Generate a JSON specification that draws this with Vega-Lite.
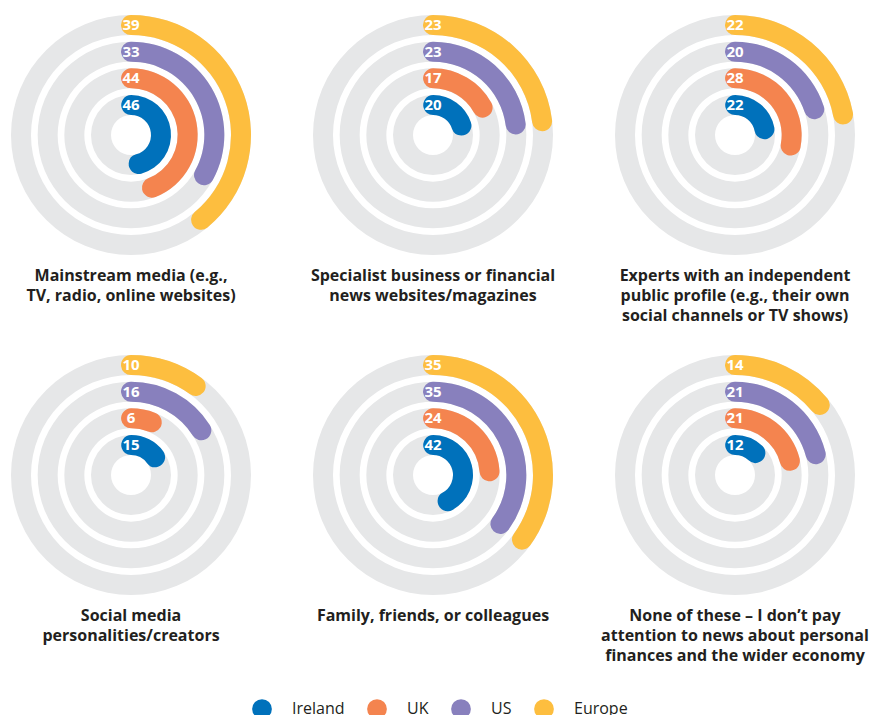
{
  "$schema": "https://vega.github.io/schema/vega-lite/v6.json",
  "padding": {"left": 11, "top": 15, "right": 5, "bottom": 0},
  "background": "white",
  "bounds": "flush",
  "data": {
    "values": [
      {"category": "Mainstream media (e.g., TV, radio, online websites)", "country": "Ireland", "value": 46},
      {"category": "Mainstream media (e.g., TV, radio, online websites)", "country": "UK", "value": 44},
      {"category": "Mainstream media (e.g., TV, radio, online websites)", "country": "US", "value": 33},
      {"category": "Mainstream media (e.g., TV, radio, online websites)", "country": "Europe", "value": 39},
      {"category": "Specialist business or financial news websites/magazines", "country": "Ireland", "value": 20},
      {"category": "Specialist business or financial news websites/magazines", "country": "UK", "value": 17},
      {"category": "Specialist business or financial news websites/magazines", "country": "US", "value": 23},
      {"category": "Specialist business or financial news websites/magazines", "country": "Europe", "value": 23},
      {"category": "Experts with an independent public profile (e.g., their own social channels or TV shows)", "country": "Ireland", "value": 22},
      {"category": "Experts with an independent public profile (e.g., their own social channels or TV shows)", "country": "UK", "value": 28},
      {"category": "Experts with an independent public profile (e.g., their own social channels or TV shows)", "country": "US", "value": 20},
      {"category": "Experts with an independent public profile (e.g., their own social channels or TV shows)", "country": "Europe", "value": 22},
      {"category": "Social media personalities/creators", "country": "Ireland", "value": 15},
      {"category": "Social media personalities/creators", "country": "UK", "value": 6},
      {"category": "Social media personalities/creators", "country": "US", "value": 16},
      {"category": "Social media personalities/creators", "country": "Europe", "value": 10},
      {"category": "Family, friends, or colleagues", "country": "Ireland", "value": 42},
      {"category": "Family, friends, or colleagues", "country": "UK", "value": 24},
      {"category": "Family, friends, or colleagues", "country": "US", "value": 35},
      {"category": "Family, friends, or colleagues", "country": "Europe", "value": 35},
      {"category": "None of these – I don’t pay attention to news about personal finances and the wider economy", "country": "Ireland", "value": 12},
      {"category": "None of these – I don’t pay attention to news about personal finances and the wider economy", "country": "UK", "value": 21},
      {"category": "None of these – I don’t pay attention to news about personal finances and the wider economy", "country": "US", "value": 21},
      {"category": "None of these – I don’t pay attention to news about personal finances and the wider economy", "country": "Europe", "value": 14}
    ]
  },
  "facet": {
    "field": "category",
    "type": "nominal",
    "sort": [
      "Mainstream media (e.g., TV, radio, online websites)",
      "Specialist business or financial news websites/magazines",
      "Experts with an independent public profile (e.g., their own social channels or TV shows)",
      "Social media personalities/creators",
      "Family, friends, or colleagues",
      "None of these – I don’t pay attention to news about personal finances and the wider economy"
    ],
    "header": {
      "title": null,
      "labelOrient": "bottom",
      "labelFont": "Open Sans",
      "labelFontWeight": "bold",
      "labelFontSize": 16,
      "labelColor": "#231f20",
      "labelPadding": 13,
      "labelLineHeight": 20,
      "labelBaseline": "top",
      "labelExpr": "datum.value == 'Mainstream media (e.g., TV, radio, online websites)' ? ['Mainstream media (e.g.,', 'TV, radio, online websites)'] : datum.value == 'Specialist business or financial news websites/magazines' ? ['Specialist business or financial', 'news websites/magazines'] : datum.value == 'Experts with an independent public profile (e.g., their own social channels or TV shows)' ? ['Experts with an independent', 'public profile (e.g., their own', 'social channels or TV shows)'] : datum.value == 'Social media personalities/creators' ? ['Social media', 'personalities/creators'] : datum.value == 'Family, friends, or colleagues' ? ['Family, friends, or colleagues'] : ['None of these – I don’t pay', 'attention to news about personal', 'finances and the wider economy']"
    }
  },
  "columns": 3,
  "spacing": {"column": 62, "row": 100},
  "spec": {
    "width": 240,
    "height": 240,
    "encoding": {
      "radius": {
        "field": "country",
        "type": "nominal",
        "scale": {"type": "point", "domain": ["Ireland", "UK", "US", "Europe"], "range": [40, 120], "padding": 0}
      },
      "radius2": {"field": "country"}
    },
    "layer": [
      {
        "mark": {"type": "arc", "color": "#e6e7e8", "radius2Offset": -20},
        "encoding": {
          "theta": {"value": 0},
          "theta2": {"value": 6.2832}
        }
      },
      {
        "transform": [{"filter": "datum.country == 'Ireland'"}],
        "mark": {"type": "arc", "cornerRadius": 10, "radius2Offset": -20, "thetaOffset": 0.333, "theta2Offset": -0.333},
        "encoding": {
          "theta": {"field": "value", "type": "quantitative", "stack": null, "scale": {"domain": [0, 100], "range": [0, 6.2832]}},
          "theta2": {"datum": 0},
          "color": {"field": "country", "type": "nominal", "scale": {"domain": ["Ireland", "UK", "US", "Europe"], "range": ["#0071bb", "#f4844f", "#8880bd", "#fdbe3f"]}}
        }
      },
      {
        "transform": [{"filter": "datum.country == 'UK'"}],
        "mark": {"type": "arc", "cornerRadius": 10, "radius2Offset": -20, "thetaOffset": 0.176, "theta2Offset": -0.176},
        "encoding": {
          "theta": {"field": "value", "type": "quantitative", "stack": null, "scale": {"domain": [0, 100], "range": [0, 6.2832]}},
          "theta2": {"datum": 0},
          "color": {"field": "country", "type": "nominal", "scale": {"domain": ["Ireland", "UK", "US", "Europe"], "range": ["#0071bb", "#f4844f", "#8880bd", "#fdbe3f"]}}
        }
      },
      {
        "transform": [{"filter": "datum.country == 'US'"}],
        "mark": {"type": "arc", "cornerRadius": 10, "radius2Offset": -20, "thetaOffset": 0.12, "theta2Offset": -0.12},
        "encoding": {
          "theta": {"field": "value", "type": "quantitative", "stack": null, "scale": {"domain": [0, 100], "range": [0, 6.2832]}},
          "theta2": {"datum": 0},
          "color": {"field": "country", "type": "nominal", "scale": {"domain": ["Ireland", "UK", "US", "Europe"], "range": ["#0071bb", "#f4844f", "#8880bd", "#fdbe3f"]}}
        }
      },
      {
        "transform": [{"filter": "datum.country == 'Europe'"}],
        "mark": {"type": "arc", "cornerRadius": 10, "radius2Offset": -20, "thetaOffset": 0.091, "theta2Offset": -0.091},
        "encoding": {
          "theta": {"field": "value", "type": "quantitative", "stack": null, "scale": {"domain": [0, 100], "range": [0, 6.2832]}},
          "theta2": {"datum": 0},
          "color": {"field": "country", "type": "nominal", "scale": {"domain": ["Ireland", "UK", "US", "Europe"], "range": ["#0071bb", "#f4844f", "#8880bd", "#fdbe3f"]}}
        }
      },
      {
        "mark": {"type": "text", "color": "white", "font": "Open Sans", "fontWeight": "bold", "fontSize": 15, "align": "center", "baseline": "middle", "radiusOffset": -10},
        "encoding": {
          "theta": {"value": 0},
          "radius2": null,
          "text": {"field": "value", "type": "quantitative"}
        }
      }
    ]
  },
  "config": {
    "view": {"stroke": null},
    "legend": {
      "orient": "bottom",
      "direction": "horizontal",
      "title": null,
      "symbolType": "circle",
      "symbolSize": 390,
      "symbolStrokeWidth": 0,
      "labelFont": "Open Sans",
      "labelFontSize": 16,
      "labelColor": "#231f20",
      "labelOffset": 20,
      "columnPadding": 22,
      "offset": 35,
      "layout": {"bottom": {"anchor": "middle"}}
    }
  }
}
